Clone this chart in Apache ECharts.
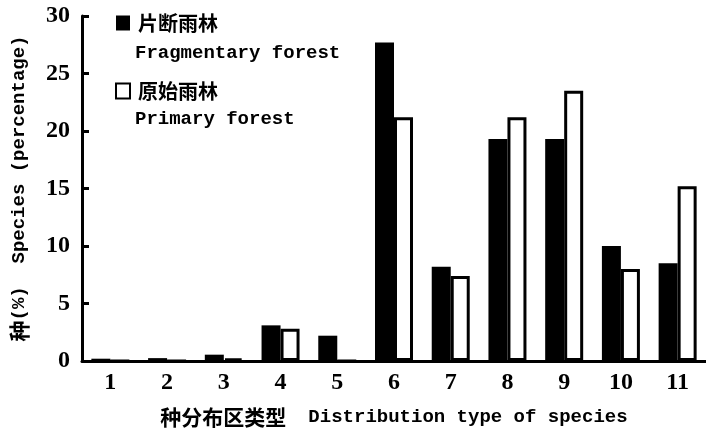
<!DOCTYPE html>
<html lang="zh">
<head>
    <meta charset="UTF-8">
    <title>Species distribution types</title>
    <script src="https://cdn.jsdelivr.net/npm/echarts@6/dist/echarts.min.js"></script>
</head>
<body style="margin:0;">
    <div id="main" style="width: 706px; height: 437px; background: #fff;"></div>
    <script>
        // 数据
        const categories = ['1', '2', '3', '4', '5', '6', '7', '8', '9', '10', '11'];
        const fragmentary = [0.2, 0.25, 0.55, 3.1, 2.2, 27.7, 8.2, 19.3, 19.3, 10.0, 8.5];
        const primary = [0, 0, 0.2, 2.8, 0, 21.2, 7.4, 21.2, 23.5, 8.0, 15.2];
        const seriesNames = ['片断雨林', '原始雨林'];
        const seriesNamesEn = ['Fragmentary forest', 'Primary forest'];

        const numFont = 'Liberation Serif';
        const monoFont = 'Liberation Mono';
        const cjkFont = 'Noto Sans CJK SC';

        const myChart = echarts.init(document.getElementById('main'));

        const option = {
            animation: false,
            grid: { left: 82, right: 0, top: 16, bottom: 76 },
            legend: {
                orient: 'vertical',
                left: 110,
                top: 1,
                icon: 'rect',
                itemWidth: 14,
                itemHeight: 15,
                itemGap: 34,
                data: seriesNames,
                textStyle: {
                    fontFamily: cjkFont, fontSize: 20, fontWeight: 'bold',
                    color: '#000', lineHeight: 30, padding: [4, 0, 0, 3]
                }
            },
            xAxis: {
                type: 'category',
                data: categories,
                name: '{cn|种分布区类型}{en|Distribution type of species}',
                nameLocation: 'middle',
                nameGap: 46,
                nameTextStyle: {
                    color: '#000',
                    rich: {
                        cn: { fontFamily: cjkFont, fontSize: 21, fontWeight: 'bold', color: '#000' },
                        en: { fontFamily: monoFont, fontSize: 19, fontWeight: 'bold', color: '#000', padding: [0, 0, 0, 22] }
                    }
                },
                axisLine: { lineStyle: { color: '#000', width: 3 } },
                axisTick: { inside: true, length: 8, lineStyle: { color: '#000', width: 3 } },
                axisLabel: { color: '#000', fontFamily: numFont, fontSize: 24, fontWeight: 'bold', margin: 10 }
            },
            yAxis: {
                type: 'value',
                min: 0, max: 30, interval: 5,
                name: '{cn|种}{en|(%)  Species (percentage)}',
                nameLocation: 'middle',
                nameGap: 52,
                nameRotate: 90,
                nameTextStyle: {
                    color: '#000',
                    rich: {
                        cn: { fontFamily: cjkFont, fontSize: 21, fontWeight: 'bold', color: '#000' },
                        en: { fontFamily: monoFont, fontSize: 19, fontWeight: 'bold', color: '#000' }
                    }
                },
                splitLine: { show: false },
                axisLine: { show: true, lineStyle: { color: '#000', width: 3 } },
                axisTick: { show: true, inside: true, length: 7, lineStyle: { color: '#000', width: 3 } },
                axisLabel: { color: '#000', fontFamily: numFont, fontSize: 24, fontWeight: 'bold', margin: 12 }
            },
            graphic: [
                { type: 'text', left: 135, top: 44, style: { text: seriesNamesEn[0], font: 'bold 19px "Liberation Mono"', fill: '#000' } },
                { type: 'text', left: 135, top: 110, style: { text: seriesNamesEn[1], font: 'bold 19px "Liberation Mono"', fill: '#000' } }
            ],
            series: [
                {
                    name: seriesNames[0],
                    type: 'bar',
                    data: fragmentary,
                    barWidth: 19,
                    barGap: '0%',
                    itemStyle: { color: '#000' }
                },
                {
                    name: seriesNames[1],
                    type: 'bar',
                    data: primary,
                    barWidth: 19,
                    itemStyle: { color: '#fff', borderColor: '#000', borderWidth: 3 }
                }
            ]
        };

        myChart.setOption(option);
    </script>
</body>
</html>
